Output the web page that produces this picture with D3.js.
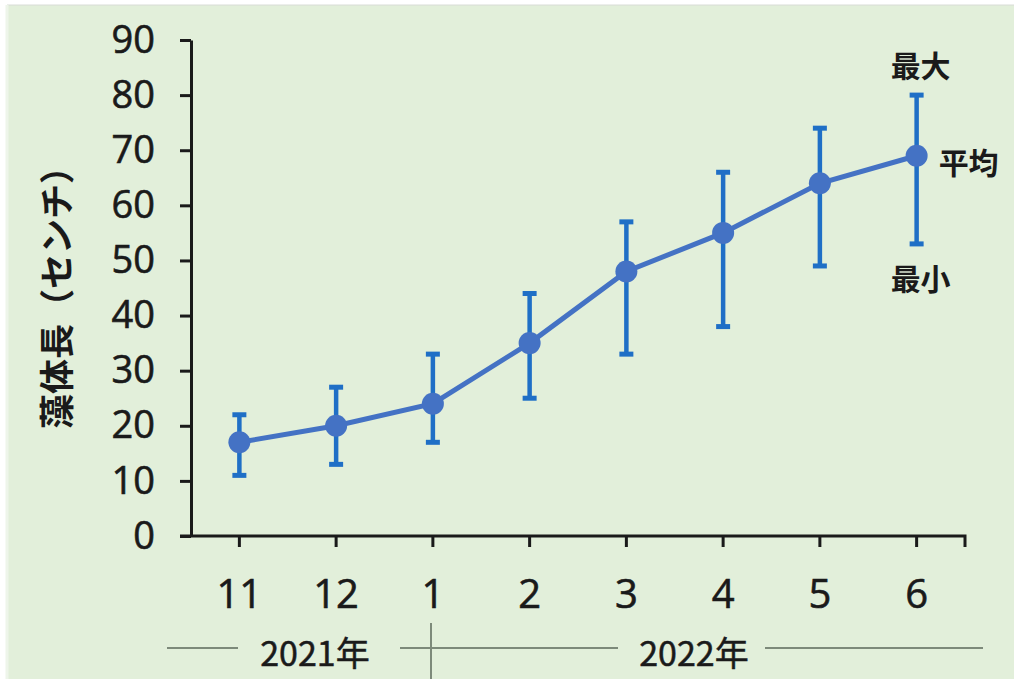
<!DOCTYPE html>
<html><head><meta charset="utf-8">
<script src="https://cdn.jsdelivr.net/npm/d3@7"></script>
<style>html,body{margin:0;padding:0;background:#fff;}svg{display:block;}</style>
</head><body>
<svg id="c" width="1014" height="679"></svg>
<script>
const months = ["11","12","1","2","3","4","5","6"];
const meanVals = [17, 20, 24, 35, 48, 55, 64, 69];
const maxVals  = [22, 27, 33, 44, 57, 66, 74, 80];
const minVals  = [11, 13, 17, 25, 33, 38, 49, 53];
const yTicks = [0,10,20,30,40,50,60,70,80,90];
const years = [{label:"2021年", from:0, to:1}, {label:"2022年", from:2, to:7}];
const yTitle = "藻体長（センチ）";
const annot = {max:"最大", mean:"平均", min:"最小"};

(function(){
const svg = d3.select("#c");
svg.append("rect").attr("x",7).attr("y",5).attr("width",1007).attr("height",674).attr("fill","#e2efda");
svg.append("line").attr("x1",7).attr("x2",1014).attr("y1",5).attr("y2",5).attr("stroke","#d8dcd6").attr("stroke-width",1);
svg.append("line").attr("x1",7).attr("x2",7).attr("y1",5).attr("y2",679).attr("stroke","#eef5ea").attr("stroke-width",3);

const pl = 191, pr = 965, pt = 40, pb = 536;
const x = d3.scaleBand().domain(months).range([pl, pr]);
const y = d3.scaleLinear().domain([0, 90]).range([pb, pt]);
const cx = m => x(m) + x.bandwidth()/2;

const font = "'Open Sans','Noto Sans',sans-serif";
const cjk = "'Noto Sans CJK JP','Noto Sans',sans-serif";
const ink = "#1a1a1a";

// Y axis
const yAxis = svg.append("g").attr("transform",`translate(${pl},0)`)
  .call(d3.axisLeft(y).tickValues(yTicks).tickSize(11).tickSizeOuter(0).tickPadding(25));
yAxis.select(".domain").attr("stroke",ink).attr("stroke-width",3);
yAxis.selectAll(".tick line").attr("stroke",ink).attr("stroke-width",3);
yAxis.selectAll(".tick text").attr("font-family",font).attr("font-size",38).attr("fill",ink)
  .attr("stroke",ink).attr("stroke-width",0.6);

// X axis
const xAxis = svg.append("g").attr("transform",`translate(0,${pb})`)
  .call(d3.axisBottom(x).tickSize(11).tickSizeOuter(11).tickPadding(33));
xAxis.select(".domain").attr("stroke",ink).attr("stroke-width",3).attr("d",`M${pl-11},0H${pr}V11`);
xAxis.selectAll(".tick line").attr("stroke",ink).attr("stroke-width",3);
xAxis.selectAll(".tick text").attr("font-family",font).attr("font-size",40).attr("fill",ink)
  .attr("stroke",ink).attr("stroke-width",0.6);

// Y title
svg.append("text").attr("transform",`translate(54,${(145+433)/2}) rotate(-90)`)
  .attr("text-anchor","middle").attr("dominant-baseline","central")
  .attr("font-family",cjk).attr("font-weight","bold").attr("font-size",35).attr("fill",ink)
  .text(yTitle);

// Year group labels
const gy = 648;
const lineCol = "#7d8a7a";
const yearTextX = [315, 694];
years.forEach((yr,i)=>{
  svg.append("text").attr("x",yearTextX[i]).attr("y",gy+3).attr("text-anchor","middle").attr("dominant-baseline","central")
    .attr("font-family",cjk).attr("font-size",34).attr("fill",ink).attr("stroke",ink).attr("stroke-width",0.5).text(yr.label);
});
[[167,238],[400,618],[765,983]].forEach(([a,b])=>{
  svg.append("line").attr("x1",a).attr("x2",b).attr("y1",gy).attr("y2",gy).attr("stroke",lineCol).attr("stroke-width",2);
});
svg.append("line").attr("x1",431).attr("x2",431).attr("y1",623).attr("y2",679).attr("stroke",lineCol).attr("stroke-width",2);

// Error bars
const ebCol = "#1f6fc6";
const eb = svg.append("g");
months.forEach((m,i)=>{
  const X = cx(m);
  eb.append("line").attr("x1",X).attr("x2",X).attr("y1",y(maxVals[i])).attr("y2",y(minVals[i])).attr("stroke",ebCol).attr("stroke-width",4.5);
  [maxVals[i],minVals[i]].forEach(v=>{
    eb.append("line").attr("x1",X-7).attr("x2",X+7).attr("y1",y(v)).attr("y2",y(v)).attr("stroke",ebCol).attr("stroke-width",5);
  });
});

// Mean line + markers
const lineCol2 = "#4472c4";
svg.append("path").datum(meanVals)
  .attr("d", d3.line().x((d,i)=>cx(months[i])).y(d=>y(d)))
  .attr("fill","none").attr("stroke",lineCol2).attr("stroke-width",5);
svg.append("g").selectAll("circle").data(meanVals).join("circle")
  .attr("cx",(d,i)=>cx(months[i])).attr("cy",d=>y(d)).attr("r",11).attr("fill",lineCol2);

// Annotations
const last = months.length-1;
const lx = cx(months[last]);
const ann = (t,xx,yy,anchor)=>svg.append("text").attr("x",xx).attr("y",yy).attr("text-anchor",anchor).attr("dominant-baseline","central")
  .attr("font-family",cjk).attr("font-weight","bold").attr("font-size",30).attr("fill",ink).text(t);
ann(annot.max, lx+4, y(maxVals[last])-31, "middle");
ann(annot.mean, lx+22, y(meanVals[last])+5, "start");
ann(annot.min, lx+4, y(minVals[last])+33, "middle");
})();
</script>
</body></html>
